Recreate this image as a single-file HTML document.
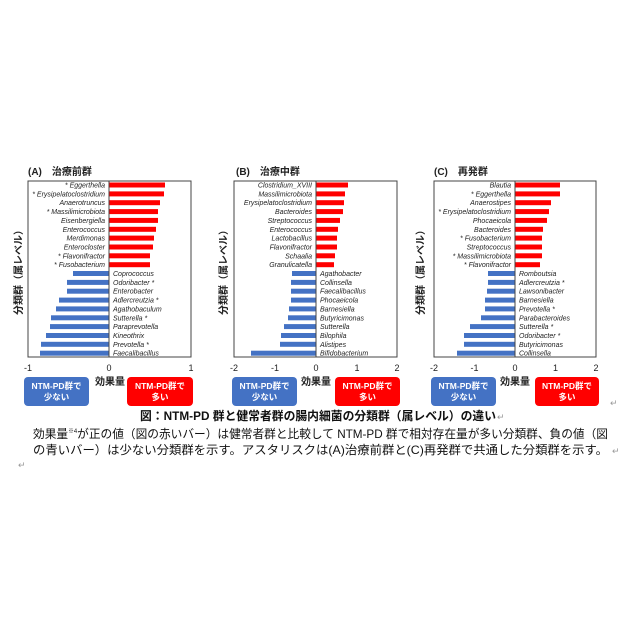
<!DOCTYPE html>
<html><head><meta charset="utf-8"><style>
body{margin:0;background:#fff;}
svg{display:block;}
.l{font-family:"Liberation Sans",sans-serif;font-size:7px;font-style:italic;fill:#222;}
.t{font-family:"Liberation Sans",sans-serif;font-size:9px;fill:#222;}
.j{font-family:"Liberation Sans","Noto Sans CJK JP",sans-serif;}
</style></head><body>
<svg width="630" height="630" viewBox="0 0 630 630" xmlns="http://www.w3.org/2000/svg">
<rect width="630" height="630" fill="#fff"/>

<!-- ===== Panel A ===== -->
<text x="28" y="175" class="j" font-size="10" font-weight="bold" fill="#222">(A)　治療前群</text>
<text transform="translate(22,270) rotate(-90)" text-anchor="middle" class="j" font-size="10" font-weight="bold" fill="#222">分類群（属レベル）</text>
<g fill="#ff0000">
<rect x="109" y="182.5" width="56" height="5"/><rect x="109" y="191.4" width="55" height="5"/>
<rect x="109" y="200.2" width="51" height="5"/><rect x="109" y="209.1" width="49" height="5"/>
<rect x="109" y="217.9" width="49" height="5"/><rect x="109" y="226.8" width="47" height="5"/>
<rect x="109" y="235.6" width="45" height="5"/><rect x="109" y="244.5" width="44" height="5"/>
<rect x="109" y="253.3" width="41" height="5"/><rect x="109" y="262.2" width="41" height="5"/>
</g>
<g fill="#4472c4">
<rect x="73" y="271" width="36" height="5"/><rect x="67" y="279.9" width="42" height="5"/>
<rect x="67" y="288.7" width="42" height="5"/><rect x="59" y="297.6" width="50" height="5"/>
<rect x="56" y="306.4" width="53" height="5"/><rect x="51" y="315.3" width="58" height="5"/>
<rect x="50" y="324.1" width="59" height="5"/><rect x="46" y="333" width="63" height="5"/>
<rect x="41" y="341.8" width="68" height="5"/><rect x="40" y="350.7" width="69" height="5"/>
</g>
<rect x="28" y="181" width="163" height="176" fill="none" stroke="#444" stroke-width="1"/>
<line x1="109" y1="181" x2="109" y2="357" stroke="#444"/>
<g class="l" text-anchor="end">
<text x="105" y="187.5">* Eggerthella</text><text x="105" y="196.4">* Erysipelatoclostridium</text>
<text x="105" y="205.2">Anaerotruncus</text><text x="105" y="214.1">* Massilimicrobiota</text>
<text x="105" y="222.9">Eisenbergiella</text><text x="105" y="231.8">Enterococcus</text>
<text x="105" y="240.6">Merdimonas</text><text x="105" y="249.5">Enterocloster</text>
<text x="105" y="258.3">* Flavonifractor</text><text x="105" y="267.2">* Fusobacterium</text>
</g>
<g class="l">
<text x="113" y="276">Coprococcus</text><text x="113" y="284.9">Odoribacter *</text>
<text x="113" y="293.7">Enterobacter</text><text x="113" y="302.6">Adlercreutzia *</text>
<text x="113" y="311.4">Agathobaculum</text><text x="113" y="320.3">Sutterella *</text>
<text x="113" y="329.1">Paraprevotella</text><text x="113" y="338">Kineothrix</text>
<text x="113" y="346.8">Prevotella *</text><text x="113" y="355.7">Faecalibacillus</text>
</g>
<g class="t" text-anchor="middle">
<text x="28" y="371">-1</text><text x="109" y="371">0</text><text x="191" y="371">1</text>
</g>
<text x="110" y="385" text-anchor="middle" class="j" font-size="10" font-weight="bold" fill="#222">効果量</text>
<rect x="24" y="377" width="65" height="29" rx="4" fill="#4472c4"/>
<text x="56.5" y="389" text-anchor="middle" class="j" font-size="8.5" font-weight="bold" fill="#fff">NTM-PD群で</text>
<text x="56.5" y="400" text-anchor="middle" class="j" font-size="8.5" font-weight="bold" fill="#fff">少ない</text>
<rect x="127" y="377" width="66" height="29" rx="4" fill="#ff0000"/>
<text x="160" y="389" text-anchor="middle" class="j" font-size="8.5" font-weight="bold" fill="#fff">NTM-PD群で</text>
<text x="160" y="400" text-anchor="middle" class="j" font-size="8.5" font-weight="bold" fill="#fff">多い</text>

<!-- ===== Panel B ===== -->
<text x="236" y="175" class="j" font-size="10" font-weight="bold" fill="#222">(B)　治療中群</text>
<text transform="translate(227,270) rotate(-90)" text-anchor="middle" class="j" font-size="10" font-weight="bold" fill="#222">分類群（属レベル）</text>
<g fill="#ff0000">
<rect x="316" y="182.5" width="32" height="5"/><rect x="316" y="191.4" width="29" height="5"/>
<rect x="316" y="200.2" width="28" height="5"/><rect x="316" y="209.1" width="27" height="5"/>
<rect x="316" y="217.9" width="24" height="5"/><rect x="316" y="226.8" width="22" height="5"/>
<rect x="316" y="235.6" width="21" height="5"/><rect x="316" y="244.5" width="21" height="5"/>
<rect x="316" y="253.3" width="19" height="5"/><rect x="316" y="262.2" width="18" height="5"/>
</g>
<g fill="#4472c4">
<rect x="292" y="271" width="24" height="5"/><rect x="291" y="279.9" width="25" height="5"/>
<rect x="291" y="288.7" width="25" height="5"/><rect x="291" y="297.6" width="25" height="5"/>
<rect x="289" y="306.4" width="27" height="5"/><rect x="288" y="315.3" width="28" height="5"/>
<rect x="284" y="324.1" width="32" height="5"/><rect x="281" y="333" width="35" height="5"/>
<rect x="280" y="341.8" width="36" height="5"/><rect x="251" y="350.7" width="65" height="5"/>
</g>
<rect x="234" y="181" width="163" height="176" fill="none" stroke="#444" stroke-width="1"/>
<line x1="316" y1="181" x2="316" y2="357" stroke="#444"/>
<g class="l" text-anchor="end">
<text x="312" y="187.5">Clostridium_XVIII</text><text x="312" y="196.4">Massilimicrobiota</text>
<text x="312" y="205.2">Erysipelatoclostridium</text><text x="312" y="214.1">Bacteroides</text>
<text x="312" y="222.9">Streptococcus</text><text x="312" y="231.8">Enterococcus</text>
<text x="312" y="240.6">Lactobacillus</text><text x="312" y="249.5">Flavonifractor</text>
<text x="312" y="258.3">Schaalia</text><text x="312" y="267.2">Granulicatella</text>
</g>
<g class="l">
<text x="320" y="276">Agathobacter</text><text x="320" y="284.9">Collinsella</text>
<text x="320" y="293.7">Faecalibacillus</text><text x="320" y="302.6">Phocaeicola</text>
<text x="320" y="311.4">Barnesiella</text><text x="320" y="320.3">Butyricimonas</text>
<text x="320" y="329.1">Sutterella</text><text x="320" y="338">Bilophila</text>
<text x="320" y="346.8">Alistipes</text><text x="320" y="355.7">Bifidobacterium</text>
</g>
<g class="t" text-anchor="middle">
<text x="234" y="371">-2</text><text x="275" y="371">-1</text><text x="316" y="371">0</text><text x="357" y="371">1</text><text x="397" y="371">2</text>
</g>
<text x="316" y="385" text-anchor="middle" class="j" font-size="10" font-weight="bold" fill="#222">効果量</text>
<rect x="232" y="377" width="65" height="29" rx="4" fill="#4472c4"/>
<text x="264.5" y="389" text-anchor="middle" class="j" font-size="8.5" font-weight="bold" fill="#fff">NTM-PD群で</text>
<text x="264.5" y="400" text-anchor="middle" class="j" font-size="8.5" font-weight="bold" fill="#fff">少ない</text>
<rect x="335" y="377" width="65" height="29" rx="4" fill="#ff0000"/>
<text x="367.5" y="389" text-anchor="middle" class="j" font-size="8.5" font-weight="bold" fill="#fff">NTM-PD群で</text>
<text x="367.5" y="400" text-anchor="middle" class="j" font-size="8.5" font-weight="bold" fill="#fff">多い</text>

<!-- ===== Panel C ===== -->
<text x="434" y="175" class="j" font-size="10" font-weight="bold" fill="#222">(C)　再発群</text>
<text transform="translate(424,270) rotate(-90)" text-anchor="middle" class="j" font-size="10" font-weight="bold" fill="#222">分類群（属レベル）</text>
<g fill="#ff0000">
<rect x="515" y="182.5" width="45" height="5"/><rect x="515" y="191.4" width="45" height="5"/>
<rect x="515" y="200.2" width="36" height="5"/><rect x="515" y="209.1" width="34" height="5"/>
<rect x="515" y="217.9" width="32" height="5"/><rect x="515" y="226.8" width="28" height="5"/>
<rect x="515" y="235.6" width="27" height="5"/><rect x="515" y="244.5" width="27" height="5"/>
<rect x="515" y="253.3" width="27" height="5"/><rect x="515" y="262.2" width="25" height="5"/>
</g>
<g fill="#4472c4">
<rect x="488" y="271" width="27" height="5"/><rect x="488" y="279.9" width="27" height="5"/>
<rect x="487" y="288.7" width="28" height="5"/><rect x="485" y="297.6" width="30" height="5"/>
<rect x="485" y="306.4" width="30" height="5"/><rect x="481" y="315.3" width="34" height="5"/>
<rect x="470" y="324.1" width="45" height="5"/><rect x="464" y="333" width="51" height="5"/>
<rect x="464" y="341.8" width="51" height="5"/><rect x="457" y="350.7" width="58" height="5"/>
</g>
<rect x="434" y="181" width="162" height="176" fill="none" stroke="#444" stroke-width="1"/>
<line x1="515" y1="181" x2="515" y2="357" stroke="#444"/>
<g class="l" text-anchor="end">
<text x="511" y="187.5">Blautia</text><text x="511" y="196.4">* Eggerthella</text>
<text x="511" y="205.2">Anaerostipes</text><text x="511" y="214.1">* Erysipelatoclostridium</text>
<text x="511" y="222.9">Phocaeicola</text><text x="511" y="231.8">Bacteroides</text>
<text x="511" y="240.6">* Fusobacterium</text><text x="511" y="249.5">Streptococcus</text>
<text x="511" y="258.3">* Massilimicrobiota</text><text x="511" y="267.2">* Flavonifractor</text>
</g>
<g class="l">
<text x="519" y="276">Romboutsia</text><text x="519" y="284.9">Adlercreutzia *</text>
<text x="519" y="293.7">Lawsonibacter</text><text x="519" y="302.6">Barnesiella</text>
<text x="519" y="311.4">Prevotella *</text><text x="519" y="320.3">Parabacteroides</text>
<text x="519" y="329.1">Sutterella *</text><text x="519" y="338">Odoribacter *</text>
<text x="519" y="346.8">Butyricimonas</text><text x="519" y="355.7">Collinsella</text>
</g>
<g class="t" text-anchor="middle">
<text x="434" y="371">-2</text><text x="474.5" y="371">-1</text><text x="515" y="371">0</text><text x="555.5" y="371">1</text><text x="596" y="371">2</text>
</g>
<text x="515" y="385" text-anchor="middle" class="j" font-size="10" font-weight="bold" fill="#222">効果量</text>
<rect x="431" y="377" width="65" height="29" rx="4" fill="#4472c4"/>
<text x="463.5" y="389" text-anchor="middle" class="j" font-size="8.5" font-weight="bold" fill="#fff">NTM-PD群で</text>
<text x="463.5" y="400" text-anchor="middle" class="j" font-size="8.5" font-weight="bold" fill="#fff">少ない</text>
<rect x="535" y="377" width="64" height="29" rx="4" fill="#ff0000"/>
<text x="567" y="389" text-anchor="middle" class="j" font-size="8.5" font-weight="bold" fill="#fff">NTM-PD群で</text>
<text x="567" y="400" text-anchor="middle" class="j" font-size="8.5" font-weight="bold" fill="#fff">多い</text>
<text x="610" y="406" class="j" font-size="9" fill="#999">↵</text>

<!-- ===== Caption ===== -->
<text x="140" y="420" class="j" font-size="12" font-weight="bold" fill="#111" textLength="356" lengthAdjust="spacingAndGlyphs">図：NTM-PD 群と健常者群の腸内細菌の分類群（属レベル）の違い</text>
<text x="497" y="420" class="j" font-size="9" fill="#999">↵</text>
<text x="33" y="438" class="j" font-size="12" fill="#111" textLength="575" lengthAdjust="spacingAndGlyphs">効果量<tspan font-size="6" dy="-5">※4</tspan><tspan dy="5">が正の値（図の赤いバー）は健常者群と比較して NTM-PD 群で相対存在量が多い分類群、負の値（図</tspan></text>
<text x="33" y="454" class="j" font-size="12" fill="#111" textLength="575" lengthAdjust="spacingAndGlyphs">の青いバー）は少ない分類群を示す。アスタリスクは(A)治療前群と(C)再発群で共通した分類群を示す。</text>
<text x="612" y="454" class="j" font-size="9" fill="#999">↵</text>
<text x="18" y="468" class="j" font-size="9" fill="#999">↵</text>
</svg>
</body></html>
